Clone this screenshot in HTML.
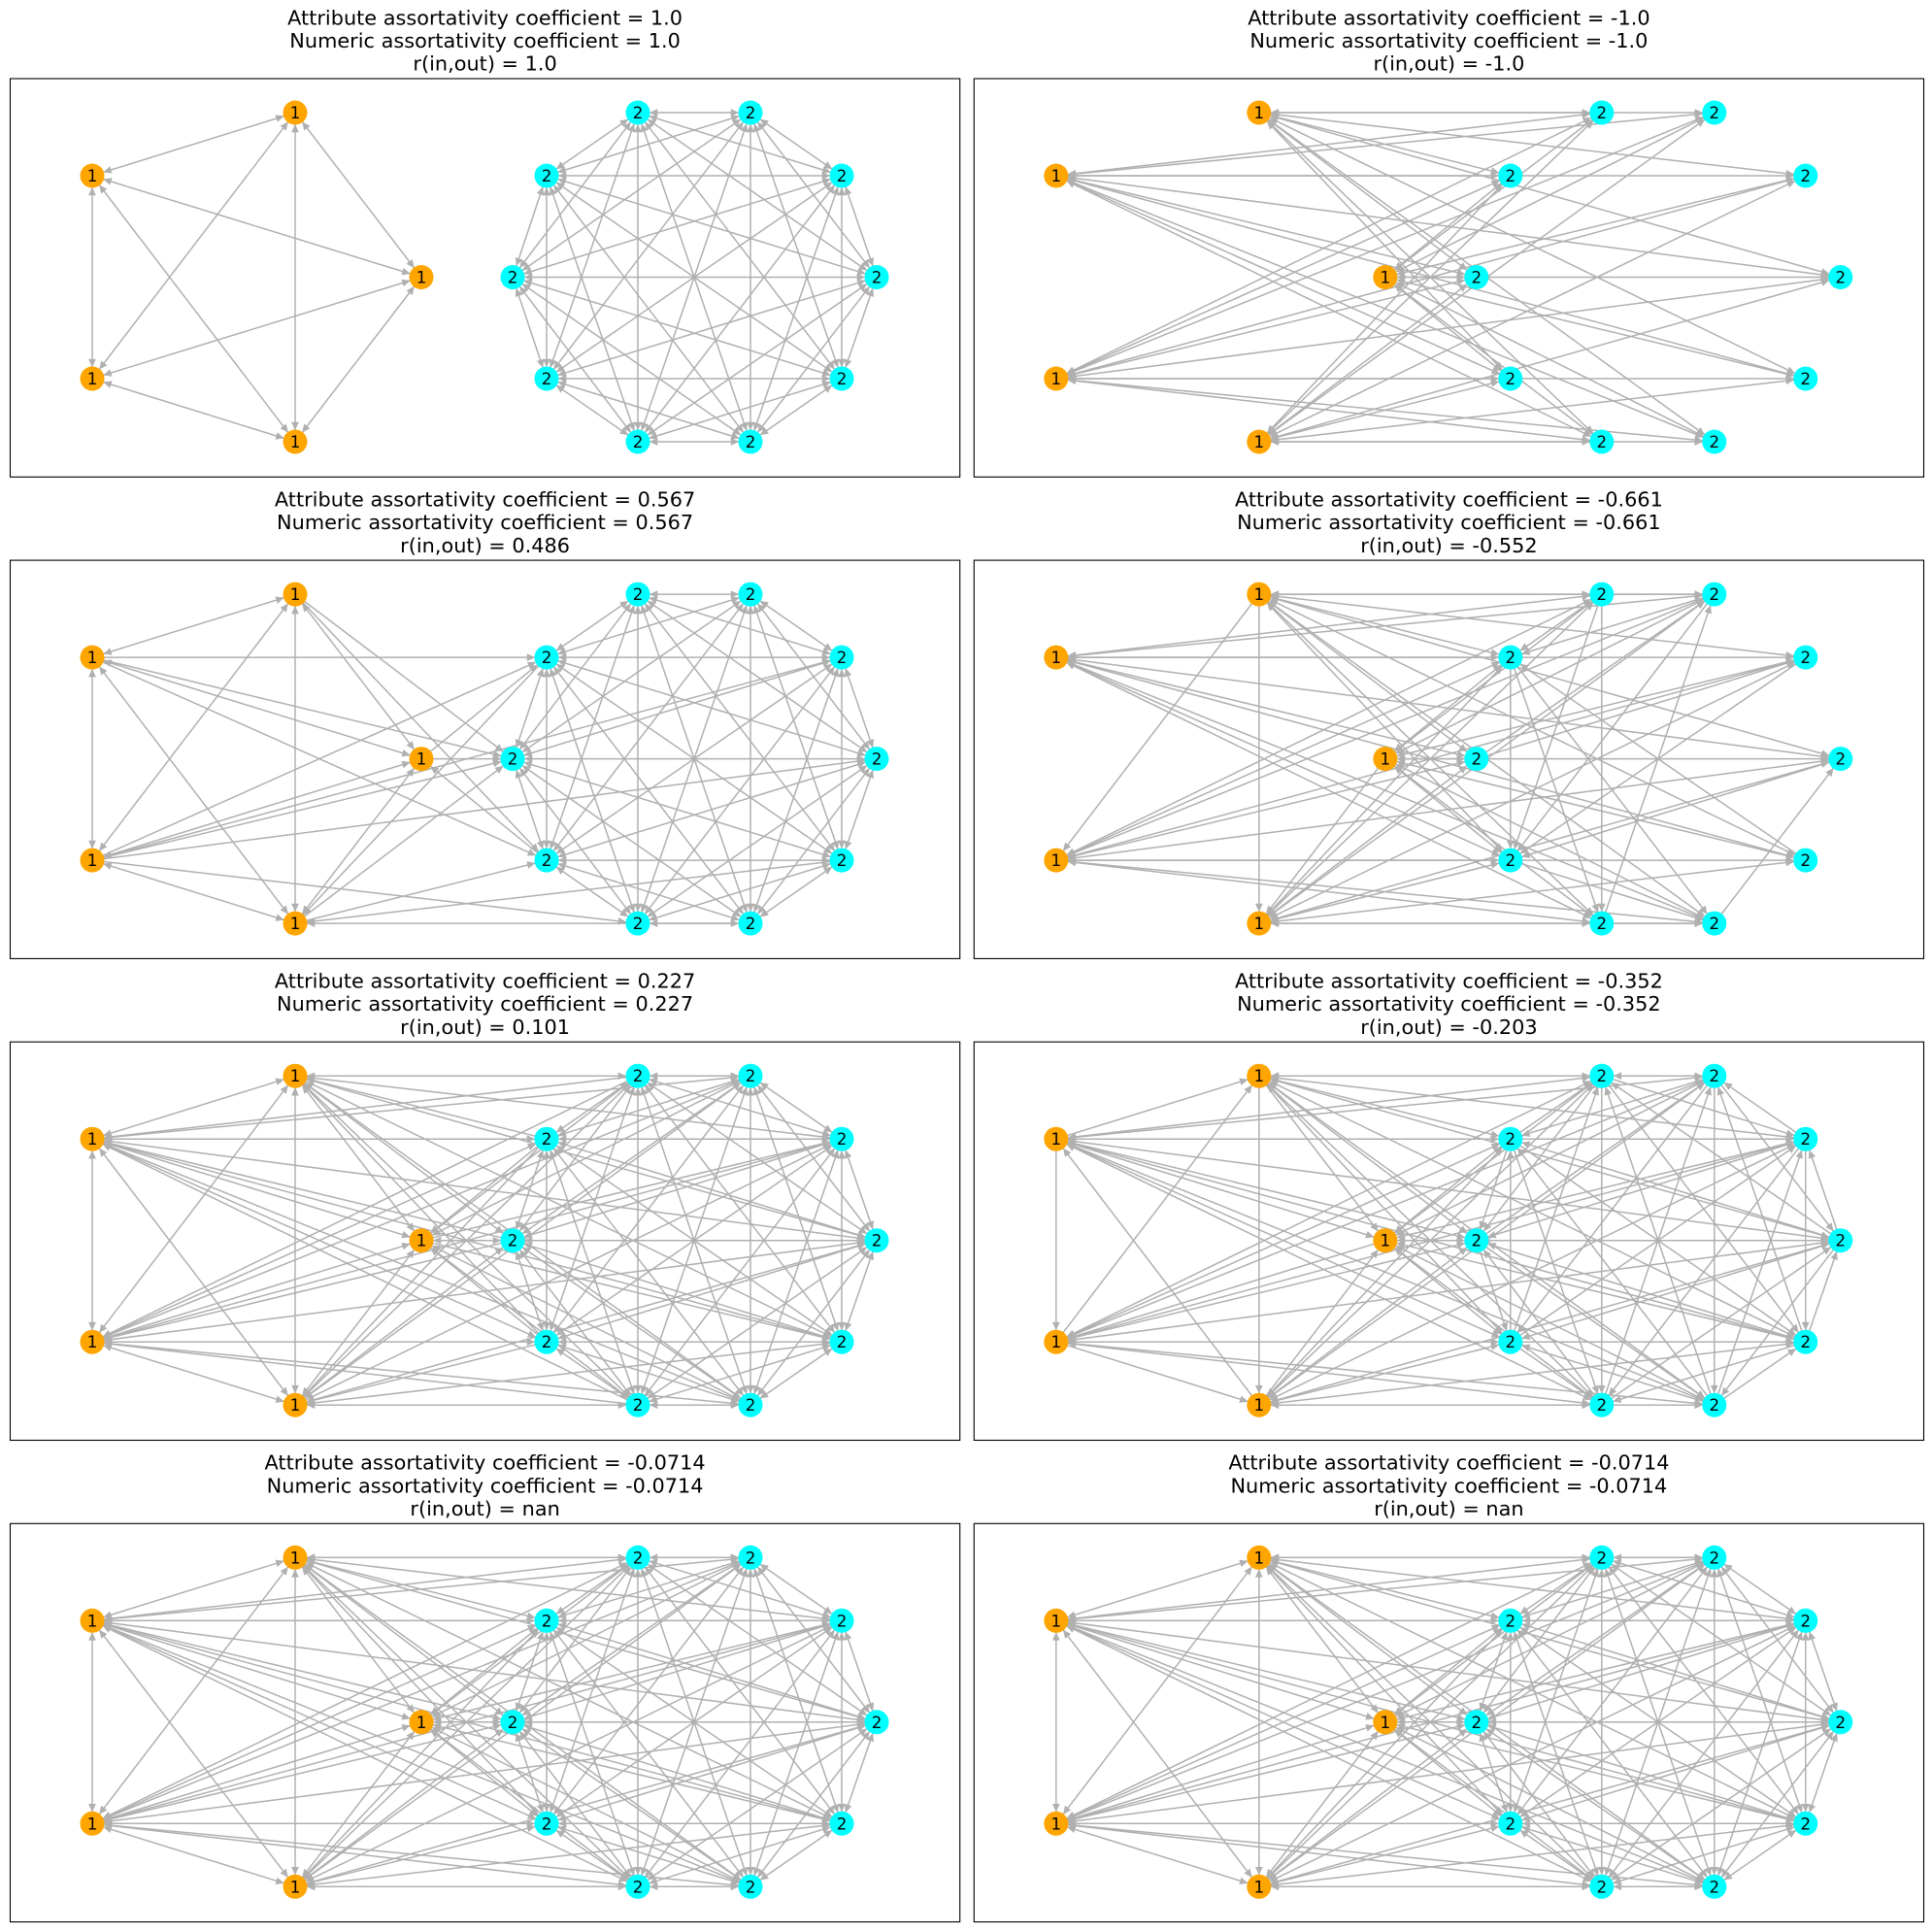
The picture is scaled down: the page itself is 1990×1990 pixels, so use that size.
<!DOCTYPE html>
<html>
<head>
<meta charset="utf-8">
<style>
html,body{margin:0;padding:0;background:#fff;}
svg{display:block;}
.t{font-family:"DejaVu Sans","Liberation Sans",sans-serif;font-size:20.83px;fill:#000;text-anchor:middle;}
.l{font-family:"DejaVu Sans","Liberation Sans",sans-serif;font-size:16.67px;fill:#000;text-anchor:middle;}
</style>
</head>
<body>
<svg width="1990" height="1990" viewBox="0 0 1990 1990" xmlns="http://www.w3.org/2000/svg">
<defs>
<marker id="me" markerUnits="userSpaceOnUse" orient="auto" viewBox="-25 -10 50 20" markerWidth="50" markerHeight="20" refX="0" refY="0" overflow="visible" style="overflow:visible">
<path d="M-13 0L-19.8 -3.1L-19.8 3.1Z" fill="#b0b0b0" stroke="#b0b0b0" stroke-width="1"/>
</marker>
<marker id="ms" markerUnits="userSpaceOnUse" orient="auto" viewBox="-25 -10 50 20" markerWidth="50" markerHeight="20" refX="0" refY="0" overflow="visible" style="overflow:visible">
<path d="M13 0L19.8 -3.1L19.8 3.1Z" fill="#b0b0b0" stroke="#b0b0b0" stroke-width="1"/>
</marker>
<g id="gO">
<path d="M95 181L304 116"/>
<path d="M304 116L434 285.5"/>
<path d="M95 390L304 116"/>
<path d="M304 116L304 455"/>
<path d="M95 181L434 285.5"/>
<path d="M95 181L95 390"/>
<path d="M304 455L95 181"/>
<path d="M434 285.5L95 390"/>
<path d="M304 455L434 285.5"/>
<path d="M95 390L304 455"/>
</g>
<g id="gC">
<path d="M773 116L657 116"/>
<path d="M657 116L867 181"/>
<path d="M903 285.5L657 116"/>
<path d="M657 116L867 390"/>
<path d="M773 455L657 116"/>
<path d="M657 116L657 455"/>
<path d="M563 390L657 116"/>
<path d="M657 116L528 285.5"/>
<path d="M563 181L657 116"/>
<path d="M867 181L773 116"/>
<path d="M773 116L903 285.5"/>
<path d="M867 390L773 116"/>
<path d="M773 116L773 455"/>
<path d="M657 455L773 116"/>
<path d="M773 116L563 390"/>
<path d="M528 285.5L773 116"/>
<path d="M773 116L563 181"/>
<path d="M903 285.5L867 181"/>
<path d="M867 181L867 390"/>
<path d="M773 455L867 181"/>
<path d="M867 181L657 455"/>
<path d="M563 390L867 181"/>
<path d="M867 181L528 285.5"/>
<path d="M563 181L867 181"/>
<path d="M867 390L903 285.5"/>
<path d="M903 285.5L773 455"/>
<path d="M657 455L903 285.5"/>
<path d="M903 285.5L563 390"/>
<path d="M528 285.5L903 285.5"/>
<path d="M903 285.5L563 181"/>
<path d="M773 455L867 390"/>
<path d="M867 390L657 455"/>
<path d="M563 390L867 390"/>
<path d="M867 390L528 285.5"/>
<path d="M563 181L867 390"/>
<path d="M657 455L773 455"/>
<path d="M773 455L563 390"/>
<path d="M528 285.5L773 455"/>
<path d="M773 455L563 181"/>
<path d="M563 390L657 455"/>
<path d="M657 455L528 285.5"/>
<path d="M563 181L657 455"/>
<path d="M528 285.5L563 390"/>
<path d="M563 390L563 181"/>
<path d="M563 181L528 285.5"/>
</g>
<g id="gX">
<path d="M304 116L657 116"/>
<path d="M773 116L304 116"/>
<path d="M304 116L867 181"/>
<path d="M903 285.5L304 116"/>
<path d="M304 116L867 390"/>
<path d="M773 455L304 116"/>
<path d="M304 116L657 455"/>
<path d="M563 390L304 116"/>
<path d="M304 116L528 285.5"/>
<path d="M563 181L304 116"/>
<path d="M657 116L95 181"/>
<path d="M95 181L773 116"/>
<path d="M867 181L95 181"/>
<path d="M95 181L903 285.5"/>
<path d="M867 390L95 181"/>
<path d="M95 181L773 455"/>
<path d="M657 455L95 181"/>
<path d="M95 181L563 390"/>
<path d="M528 285.5L95 181"/>
<path d="M95 181L563 181"/>
<path d="M434 285.5L657 116"/>
<path d="M773 116L434 285.5"/>
<path d="M434 285.5L867 181"/>
<path d="M903 285.5L434 285.5"/>
<path d="M434 285.5L867 390"/>
<path d="M773 455L434 285.5"/>
<path d="M434 285.5L657 455"/>
<path d="M563 390L434 285.5"/>
<path d="M434 285.5L528 285.5"/>
<path d="M563 181L434 285.5"/>
<path d="M657 116L95 390"/>
<path d="M95 390L773 116"/>
<path d="M867 181L95 390"/>
<path d="M95 390L903 285.5"/>
<path d="M867 390L95 390"/>
<path d="M95 390L773 455"/>
<path d="M657 455L95 390"/>
<path d="M95 390L563 390"/>
<path d="M528 285.5L95 390"/>
<path d="M95 390L563 181"/>
<path d="M304 455L657 116"/>
<path d="M773 116L304 455"/>
<path d="M304 455L867 181"/>
<path d="M903 285.5L304 455"/>
<path d="M304 455L867 390"/>
<path d="M773 455L304 455"/>
<path d="M304 455L657 455"/>
<path d="M563 390L304 455"/>
<path d="M304 455L528 285.5"/>
<path d="M563 181L304 455"/>
</g>
<g id="gP2L">
<path d="M95 181L563 181"/>
<path d="M434 285.5L528 285.5"/>
<path d="M434 285.5L563 181"/>
<path d="M95 390L563 181"/>
<path d="M95 390L528 285.5"/>
<path d="M95 390L867 181"/>
<path d="M95 390L903 285.5"/>
<path d="M95 390L657 455"/>
<path d="M304 455L563 390"/>
<path d="M867 390L304 455"/>
<path d="M304 116L563 390"/>
<path d="M95 181L563 390"/>
<path d="M563 390L434 285.5"/>
<path d="M304 455L528 285.5"/>
<path d="M563 181L304 455"/>
<path d="M304 116L528 285.5"/>
<path d="M95 181L528 285.5"/>
<path d="M773 455L304 455"/>
</g>
<g id="gP2R">
<path d="M304 116L95 390"/>
<path d="M304 116L304 455"/>
<path d="M434 285.5L304 455"/>
<path d="M657 116L773 116"/>
<path d="M657 116L657 455"/>
<path d="M563 181L563 390"/>
<path d="M657 455L773 116"/>
<path d="M773 455L903 285.5"/>
<path d="M657 116L563 181"/>
<path d="M773 116L563 181"/>
<path d="M657 455L773 455"/>
<path d="M528 285.5L867 181"/>
<path d="M773 116L563 390"/>
<path d="M657 116L563 390"/>
<path d="M563 181L657 455"/>
<path d="M563 181L773 455"/>
<path d="M563 390L773 455"/>
<path d="M867 181L563 390"/>
<path d="M903 285.5L563 390"/>
<path d="M528 285.5L773 116"/>
<path d="M867 390L563 181"/>
</g>
<g id="nodes">
<circle cx="304" cy="116" r="12.5" fill="#ffa500"/>
<circle cx="95" cy="181" r="12.5" fill="#ffa500"/>
<circle cx="434" cy="285.5" r="12.5" fill="#ffa500"/>
<circle cx="95" cy="390" r="12.5" fill="#ffa500"/>
<circle cx="304" cy="455" r="12.5" fill="#ffa500"/>
<circle cx="657" cy="116" r="12.5" fill="#00ffff"/>
<circle cx="773" cy="116" r="12.5" fill="#00ffff"/>
<circle cx="867" cy="181" r="12.5" fill="#00ffff"/>
<circle cx="903" cy="285.5" r="12.5" fill="#00ffff"/>
<circle cx="867" cy="390" r="12.5" fill="#00ffff"/>
<circle cx="773" cy="455" r="12.5" fill="#00ffff"/>
<circle cx="657" cy="455" r="12.5" fill="#00ffff"/>
<circle cx="563" cy="390" r="12.5" fill="#00ffff"/>
<circle cx="528" cy="285.5" r="12.5" fill="#00ffff"/>
<circle cx="563" cy="181" r="12.5" fill="#00ffff"/>
</g>
</defs>

<rect x="0" y="0" width="1990" height="1990" fill="#ffffff"/>

<!-- Panel 1 Left -->
<g transform="translate(0,0)">
<text class="t" x="499.6" y="25.3">Attribute assortativity coefficient = 1.0</text>
<text class="t" x="499.6" y="49">Numeric assortativity coefficient = 1.0</text>
<text class="t" x="499.6" y="72.7">r(in,out) = 1.0</text>
<rect x="10.5" y="81" width="978.2" height="410.3" fill="none" stroke="#000" stroke-width="1.1"/>
<g stroke="#b0b0b0" stroke-width="1.5" fill="none" style="marker-start:url(#ms);marker-end:url(#me)">
<use href="#gO"/><use href="#gC"/>
</g>
<use href="#nodes"/>
<text class="l" x="304 95 434 95 304" y="122 187 291.5 396 461">11111</text>
<text class="l" x="657 773 867 903 867 773 657 563 528 563" y="122 122 187 291.5 396 461 461 396 291.5 187">2222222222</text>
</g>

<!-- Panel 1 Right -->
<g transform="translate(992.8,0)">
<text class="t" x="499.6" y="25.3">Attribute assortativity coefficient = -1.0</text>
<text class="t" x="499.6" y="49">Numeric assortativity coefficient = -1.0</text>
<text class="t" x="499.6" y="72.7">r(in,out) = -1.0</text>
<rect x="10.5" y="81" width="978.2" height="410.3" fill="none" stroke="#000" stroke-width="1.1"/>
<g stroke="#b0b0b0" stroke-width="1.5" fill="none" style="marker-start:url(#ms);marker-end:url(#me)">
<use href="#gX"/>
</g>
<use href="#nodes"/>
<text class="l" x="304 95 434 95 304" y="122 187 291.5 396 461">11111</text>
<text class="l" x="657 773 867 903 867 773 657 563 528 563" y="122 122 187 291.5 396 461 461 396 291.5 187">2222222222</text>
</g>

<!-- Panel 2 Left -->
<g transform="translate(0,496.1)">
<text class="t" x="499.6" y="25.3">Attribute assortativity coefficient = 0.567</text>
<text class="t" x="499.6" y="49">Numeric assortativity coefficient = 0.567</text>
<text class="t" x="499.6" y="72.7">r(in,out) = 0.486</text>
<rect x="10.5" y="81" width="978.2" height="410.3" fill="none" stroke="#000" stroke-width="1.1"/>
<g stroke="#b0b0b0" stroke-width="1.5" fill="none" style="marker-start:url(#ms);marker-end:url(#me)">
<use href="#gO"/><use href="#gC"/>
</g>
<g stroke="#b0b0b0" stroke-width="1.5" fill="none" style="marker-end:url(#me)">
<use href="#gP2L"/>
</g>
<use href="#nodes"/>
<text class="l" x="304 95 434 95 304" y="122 187 291.5 396 461">11111</text>
<text class="l" x="657 773 867 903 867 773 657 563 528 563" y="122 122 187 291.5 396 461 461 396 291.5 187">2222222222</text>
</g>

<!-- Panel 2 Right -->
<g transform="translate(992.8,496.1)">
<text class="t" x="499.6" y="25.3">Attribute assortativity coefficient = -0.661</text>
<text class="t" x="499.6" y="49">Numeric assortativity coefficient = -0.661</text>
<text class="t" x="499.6" y="72.7">r(in,out) = -0.552</text>
<rect x="10.5" y="81" width="978.2" height="410.3" fill="none" stroke="#000" stroke-width="1.1"/>
<g stroke="#b0b0b0" stroke-width="1.5" fill="none" style="marker-start:url(#ms);marker-end:url(#me)">
<use href="#gX"/>
</g>
<g stroke="#b0b0b0" stroke-width="1.5" fill="none" style="marker-end:url(#me)">
<use href="#gP2R"/>
</g>
<use href="#nodes"/>
<text class="l" x="304 95 434 95 304" y="122 187 291.5 396 461">11111</text>
<text class="l" x="657 773 867 903 867 773 657 563 528 563" y="122 122 187 291.5 396 461 461 396 291.5 187">2222222222</text>
</g>

<!-- Panel 3 Left -->
<g transform="translate(0,992.2)">
<text class="t" x="499.6" y="25.3">Attribute assortativity coefficient = 0.227</text>
<text class="t" x="499.6" y="49">Numeric assortativity coefficient = 0.227</text>
<text class="t" x="499.6" y="72.7">r(in,out) = 0.101</text>
<rect x="10.5" y="81" width="978.2" height="410.3" fill="none" stroke="#000" stroke-width="1.1"/>
<g stroke="#b0b0b0" stroke-width="1.5" fill="none" style="marker-start:url(#ms);marker-end:url(#me)">
<use href="#gO"/><use href="#gC"/>
</g>
<g stroke="#b0b0b0" stroke-width="1.5" fill="none" style="marker-end:url(#me)">
<use href="#gX"/>
</g>
<use href="#nodes"/>
<text class="l" x="304 95 434 95 304" y="122 187 291.5 396 461">11111</text>
<text class="l" x="657 773 867 903 867 773 657 563 528 563" y="122 122 187 291.5 396 461 461 396 291.5 187">2222222222</text>
</g>

<!-- Panel 3 Right -->
<g transform="translate(992.8,992.2)">
<text class="t" x="499.6" y="25.3">Attribute assortativity coefficient = -0.352</text>
<text class="t" x="499.6" y="49">Numeric assortativity coefficient = -0.352</text>
<text class="t" x="499.6" y="72.7">r(in,out) = -0.203</text>
<rect x="10.5" y="81" width="978.2" height="410.3" fill="none" stroke="#000" stroke-width="1.1"/>
<g stroke="#b0b0b0" stroke-width="1.5" fill="none" style="marker-start:url(#ms);marker-end:url(#me)">
<use href="#gX"/>
</g>
<g stroke="#b0b0b0" stroke-width="1.5" fill="none" style="marker-end:url(#me)">
<use href="#gO"/><use href="#gC"/>
</g>
<use href="#nodes"/>
<text class="l" x="304 95 434 95 304" y="122 187 291.5 396 461">11111</text>
<text class="l" x="657 773 867 903 867 773 657 563 528 563" y="122 122 187 291.5 396 461 461 396 291.5 187">2222222222</text>
</g>

<!-- Panel 4 Left -->
<g transform="translate(0,1488.3)">
<text class="t" x="499.6" y="25.3">Attribute assortativity coefficient = -0.0714</text>
<text class="t" x="499.6" y="49">Numeric assortativity coefficient = -0.0714</text>
<text class="t" x="499.6" y="72.7">r(in,out) = nan</text>
<rect x="10.5" y="81" width="978.2" height="410.3" fill="none" stroke="#000" stroke-width="1.1"/>
<g stroke="#b0b0b0" stroke-width="1.5" fill="none" style="marker-start:url(#ms);marker-end:url(#me)">
<use href="#gO"/><use href="#gC"/><use href="#gX"/>
</g>
<use href="#nodes"/>
<text class="l" x="304 95 434 95 304" y="122 187 291.5 396 461">11111</text>
<text class="l" x="657 773 867 903 867 773 657 563 528 563" y="122 122 187 291.5 396 461 461 396 291.5 187">2222222222</text>
</g>

<!-- Panel 4 Right -->
<g transform="translate(992.8,1488.3)">
<text class="t" x="499.6" y="25.3">Attribute assortativity coefficient = -0.0714</text>
<text class="t" x="499.6" y="49">Numeric assortativity coefficient = -0.0714</text>
<text class="t" x="499.6" y="72.7">r(in,out) = nan</text>
<rect x="10.5" y="81" width="978.2" height="410.3" fill="none" stroke="#000" stroke-width="1.1"/>
<g stroke="#b0b0b0" stroke-width="1.5" fill="none" style="marker-start:url(#ms);marker-end:url(#me)">
<use href="#gO"/><use href="#gC"/><use href="#gX"/>
</g>
<use href="#nodes"/>
<text class="l" x="304 95 434 95 304" y="122 187 291.5 396 461">11111</text>
<text class="l" x="657 773 867 903 867 773 657 563 528 563" y="122 122 187 291.5 396 461 461 396 291.5 187">2222222222</text>
</g>
</svg>
</body>
</html>
